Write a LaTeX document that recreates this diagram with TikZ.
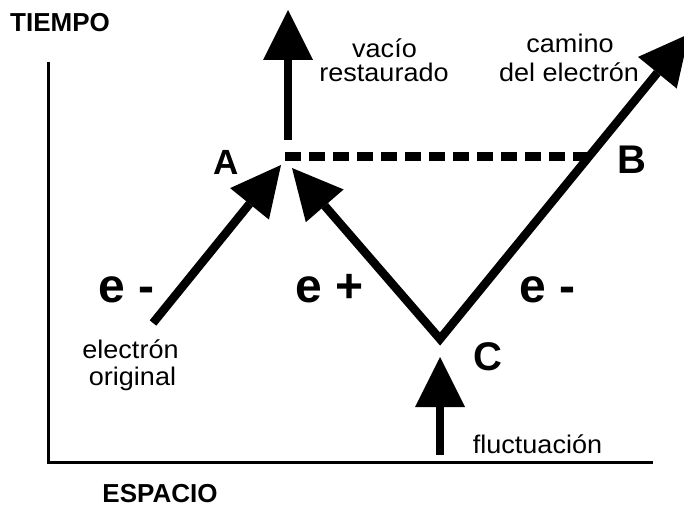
\documentclass[tikz,border=0pt]{standalone}
\usepackage{fontspec}
\setmainfont{Liberation Sans}
\newfontfamily\labfont[FakeStretch=1.06]{Liberation Sans}
\usetikzlibrary{arrows.meta}
\tikzset{
  bigtip/.tip={Triangle[length=50pt,width=50pt,line width=0pt]},
  bigarrow/.style={line width=8.5pt, -bigtip},
  axisline/.style={line width=3pt, line join=miter},
  dashline/.style={line width=9pt, dash pattern=on 16pt off 8pt},
  small/.style={font=\labfont\fontsize{25.5}{28}\selectfont, inner sep=0pt, anchor=base},
  axislabel/.style={font=\bfseries\fontsize{26}{30}\selectfont, inner sep=0pt},
  ptlabel/.style={font=\bfseries\fontsize{40}{44}\selectfont, inner sep=0pt},
  elabel/.style={font=\bfseries\fontsize{48}{52}\selectfont, inner sep=0pt, anchor=base},
}
\begin{document}
\begin{tikzpicture}[x=1pt,y=-1pt]
\useasboundingbox (0,0) rectangle (684,510);
% axes
\coordinate (axtop) at (48,62);
\coordinate (origin) at (48,462);
\coordinate (axright) at (653,462);
\draw[axisline] (axtop) -- (origin) -- (axright);
\node[axislabel] (tiempo) at (60,22.5) {TIEMPO};
\node[axislabel] (espacio) at (160,494) {ESPACIO};
% key coordinates
\coordinate (start) at (153,323);
\coordinate (tipA) at (281,165);
\coordinate (tipAp) at (292,168);
\coordinate (Cv) at (440,339);
\coordinate (tipE) at (689,34);
\coordinate (vacbase) at (288,140);
\coordinate (vactip) at (288,10);
\coordinate (flbase) at (440,455);
\coordinate (fltip) at (440,357);
\coordinate (dashL) at (285,157);
\coordinate (dashR) at (590,157);
% arrows
\draw[bigarrow] (start) -- (tipA);
\draw[line width=8.5pt, line join=miter, bigtip-bigtip] (tipAp) -- (Cv) -- (tipE);
\draw[bigarrow] (vacbase) -- (vactip);
\draw[bigarrow] (flbase) -- (fltip);
\draw[dashline] (dashL) -- (dashR);
% point labels
\node[font=\bfseries\fontsize{35}{40}\selectfont, inner sep=0pt] (A) at (226,162.5) {A};
\node[ptlabel] (B) at (631.5,160) {B};
\node[ptlabel] (C) at (487.5,357) {C};
% particle labels
\node[elabel] (em1) at (126.5,302) {e -};
\node[elabel] (ep) at (329.5,302) {e +};
\node[elabel] (em2) at (547.5,302) {e -};
% small labels
\node[small] (vac1) at (384.5,58) {vacío};
\node[small] (vac2) at (384,82) {restaurado};
\node[small] (cam1) at (570,53) {camino};
\node[small] (cam2) at (569,82) {del electrón};
\node[small] (ori1) at (130.5,358) {electrón};
\node[small] (ori2) at (132.5,385) {original};
\node[small] (fluc) at (537.5,453) {fluctuación};
\end{tikzpicture}
\end{document}
